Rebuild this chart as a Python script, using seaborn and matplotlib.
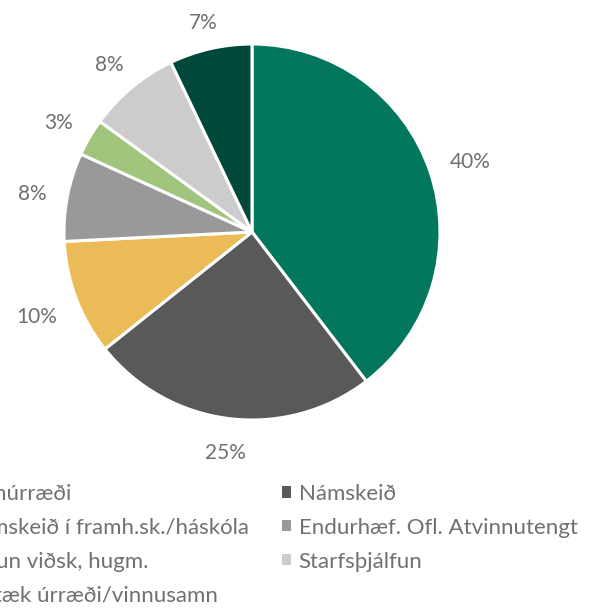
import numpy as np
import matplotlib
matplotlib.use("Agg")
import matplotlib.pyplot as plt
from matplotlib.patches import Patch
import seaborn as sns

# slice shares (percent), clockwise from 12 o'clock
labels = [
    "Vinnúrræði",
    "Námskeið",
    "Námskeið í framh.sk./háskóla",
    "Endurhæf. Ofl. Atvinnutengt",
    "Þróun viðsk, hugm.",
    "Starfsþjálfun",
    "Sértæk úrræði/vinnusamn",
]
values = [39.6, 24.7, 9.9, 7.6, 3.2, 7.9, 7.1]
colors = ["#02775E", "#595959", "#EBBB57", "#999999", "#A1C47C", "#CCCCCC", "#00493A"]

TEXT = "#707070"
W, H, DPI = 590, 608, 100

sns.set_theme(style="white")
plt.rcParams["font.family"] = ["Lato", "DejaVu Sans"]

fig = plt.figure(figsize=(W / DPI, H / DPI), dpi=DPI)
fig.patch.set_facecolor("white")

# pie centre at (252, 232) px, radius 188 px
R, cx, cy, lim = 188, 252, 232, 1.3
side = 2 * lim * R
ax = fig.add_axes([(cx - side / 2) / W, (H - cy - side / 2) / H, side / W, side / H])

palette = sns.color_palette(colors)
wedges, _, autotexts = ax.pie(
    values,
    colors=palette,
    startangle=90,
    counterclock=False,
    autopct="%.0f%%",
    pctdistance=1.2,
    wedgeprops=dict(edgecolor="white", linewidth=2.2),
    textprops=dict(color=TEXT, fontsize=15),
)
ax.set_xlim(-lim, lim)
ax.set_ylim(-lim, lim)
ax.axis("off")

# push each label just outside the rim, like "outside end" labels
gap = 20 / R
for w, t in zip(wedges, autotexts):
    ang = np.deg2rad((w.theta1 + w.theta2) / 2)
    hw = (7 * len(t.get_text())) / R
    hh = 8 / R
    d = 1 + gap + hw * abs(np.cos(ang)) + hh * abs(np.sin(ang))
    t.set_position((d * np.cos(ang), d * np.sin(ang) - 4 / R))

handles = [Patch(facecolor=c, edgecolor="none") for c in colors]
common = dict(
    frameon=False,
    fontsize=16,
    labelcolor=TEXT,
    handlelength=0.4,
    handleheight=0.4,
    handletextpad=0.35,
    labelspacing=0.62,
    borderpad=0,
    borderaxespad=0,
)
left_idx = [0, 2, 4, 6]
right_idx = [1, 3, 5]
fig.legend([handles[i] for i in left_idx], [labels[i] for i in left_idx],
           loc="upper right", bbox_to_anchor=(249 / W, 1 - 484 / H), **common)
fig.legend([handles[i] for i in right_idx], [labels[i] for i in right_idx],
           loc="upper left", bbox_to_anchor=(282 / W, 1 - 484 / H), **common)

fig.savefig("out.png", dpi=DPI)
